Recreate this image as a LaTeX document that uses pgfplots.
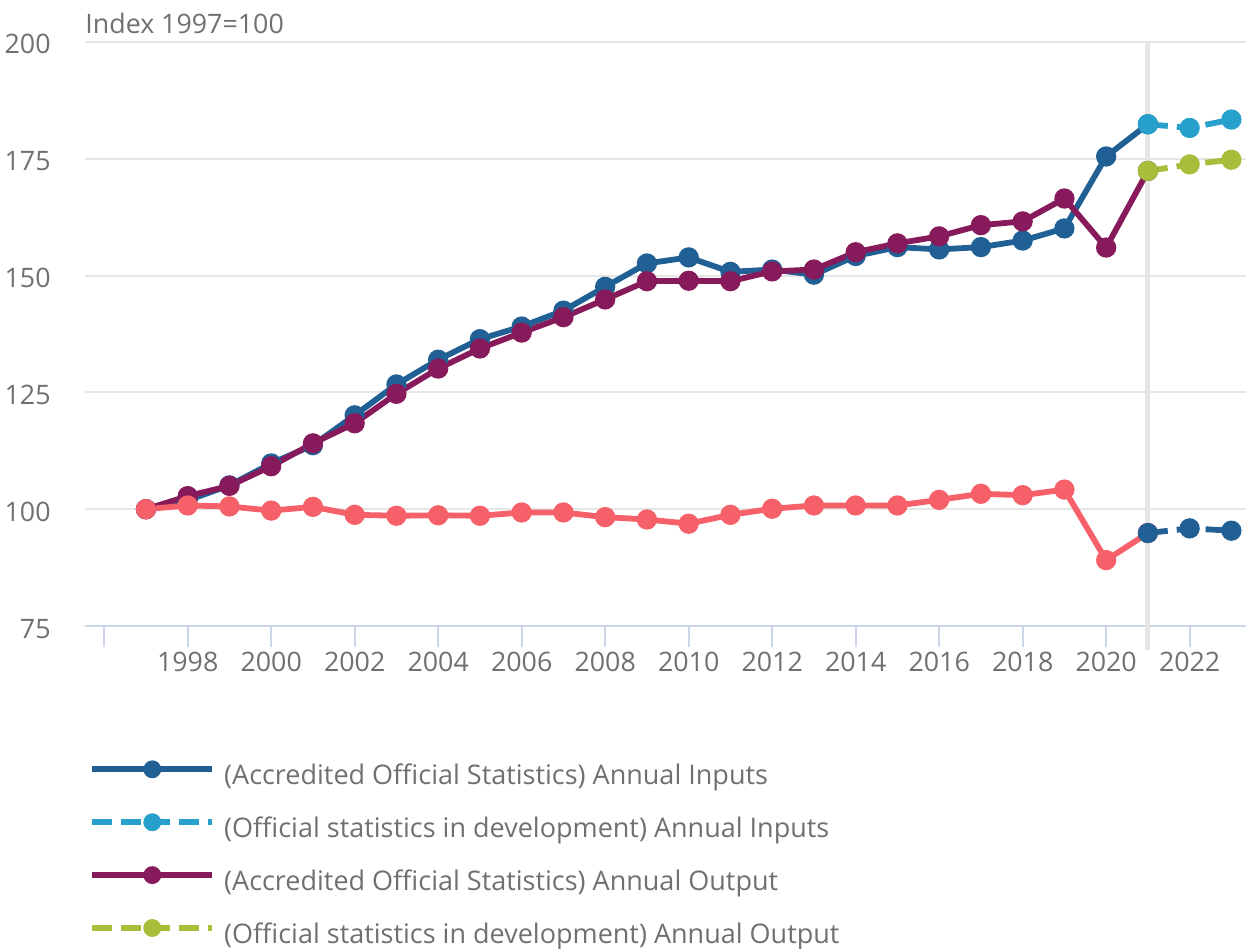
\documentclass[border=0pt]{standalone}
\usepackage{pgfplots}
\pgfplotsset{compat=1.18}
\usepackage{fontspec}
\setmainfont{Open Sans}
\definecolor{cInp}{HTML}{206095}
\definecolor{cInpDev}{HTML}{27A0CC}
\definecolor{cOut}{HTML}{871A5B}
\definecolor{cOutDev}{HTML}{A8BD3A}
\definecolor{cProd}{HTML}{F66068}
\definecolor{cTxt}{HTML}{707070}
\definecolor{cGrid}{HTML}{E6E6E6}
\definecolor{cAx}{HTML}{CCD6EB}
\begin{document}
\begin{tikzpicture}
\useasboundingbox (-42.5pt,-161pt) rectangle (580.5pt,313pt);
\begin{axis}[
  scale only axis,
  width=580.5pt, height=292pt,
  xmin=1995.54, xmax=2023.35,
  ymin=75, ymax=200,
  clip=false,
  axis lines*=left,
  x axis line style={draw=cAx, line width=1.2pt},
  y axis line style={draw=none},
  ytick={75,100,125,150,175,200},
  ymajorgrids,
  grid style={cGrid, line width=1pt},
  xtick={1996,1998,...,2022},
  xticklabels={,1998,2000,2002,2004,2006,2008,2010,2012,2014,2016,2018,2020,2022},
  x tick style={draw=cAx, line width=1pt},
  y tick style={draw=none},
  tick align=outside,
  major tick length=10.5pt,
  /pgf/number format/assume math mode=true,
  /pgf/number format/1000 sep={},
  tick label style={font=\fontsize{13.4}{16}\selectfont, text=cTxt, inner sep=0pt},
  xticklabel style={anchor=base, yshift=-12pt},
  yticklabel style={anchor=base east, xshift=-6.5pt, yshift=-6pt},
  every axis plot/.append style={line width=2.9pt, mark=*, mark size=3.6pt, mark options={solid}},
  legend style={
    at={(0,0)}, anchor=north west, xshift=-1pt, yshift=-67pt,
    draw=none, fill=none, inner sep=0pt,
    font=\fontsize{13.5}{16}\selectfont, text=cTxt,
    row sep=11pt,
    nodes={inner sep=0pt, text height=9.5pt, text depth=3.5pt},
  },
  legend cell align=left,
  legend image code/.code={
    \draw[#1, mark=none] (3pt,4.5pt) -- (63pt,4.5pt);
    \fill[#1, solid] (33pt,4.5pt) circle (3pt);
    \path (0pt,0pt) (67.5pt,0pt);
  },
]
\draw[cGrid, line width=2.5pt] (axis cs:2021,200) -- (axis cs:2021,69.9);

\addplot[cInp] coordinates {
(1997,100) (1998,101.9) (1999,105.1) (2000,109.8) (2001,113.7) (2002,120.1)
(2003,126.7) (2004,132.0) (2005,136.4) (2006,139.1) (2007,142.5) (2008,147.6)
(2009,152.6) (2010,153.9) (2011,150.8) (2012,151.3) (2013,150.2) (2014,154.2)
(2015,156.1) (2016,155.6) (2017,156.1) (2018,157.5) (2019,160.1) (2020,175.5)
(2021,182.4)};
\addlegendentry{(Accredited Official Statistics) Annual Inputs}

\addplot[cInpDev, dash pattern=on 10pt off 4.5pt] coordinates {
(2021,182.4) (2022,181.6) (2023,183.4)};
\addlegendentry{(Official statistics in development) Annual Inputs}

\addplot[cOut] coordinates {
(1997,100) (1998,102.8) (1999,105.0) (2000,109.2) (2001,114.1) (2002,118.4)
(2003,124.7) (2004,130.1) (2005,134.4) (2006,137.8) (2007,141.1) (2008,144.9)
(2009,148.8) (2010,148.9) (2011,148.8) (2012,150.9) (2013,151.3) (2014,155.0)
(2015,156.9) (2016,158.4) (2017,160.8) (2018,161.6) (2019,166.5) (2020,156.0)
(2021,172.4)};
\addlegendentry{(Accredited Official Statistics) Annual Output}

\addplot[cOutDev, dash pattern=on 10pt off 4.5pt] coordinates {
(2021,172.4) (2022,173.8) (2023,174.8)};
\addlegendentry{(Official statistics in development) Annual Output}

\addplot[cProd, forget plot] coordinates {
(1997,100) (1998,100.8) (1999,100.6) (2000,99.7) (2001,100.5) (2002,98.8)
(2003,98.6) (2004,98.7) (2005,98.6) (2006,99.3) (2007,99.3) (2008,98.3)
(2009,97.8) (2010,96.9) (2011,98.8) (2012,100.1) (2013,100.8) (2014,100.8)
(2015,100.8) (2016,102.0) (2017,103.3) (2018,103.0) (2019,104.2) (2020,89.1)
(2021,94.9)};

\addplot[cInp, dash pattern=on 10pt off 4.5pt, forget plot] coordinates {
(2021,94.9) (2022,95.9) (2023,95.4)};

\node[anchor=base west, inner sep=0pt, text=cTxt, font=\fontsize{13.4}{16}\selectfont]
  at ([yshift=4pt]rel axis cs:0,1) {Index 1997=100};
\end{axis}
\end{tikzpicture}
\end{document}
